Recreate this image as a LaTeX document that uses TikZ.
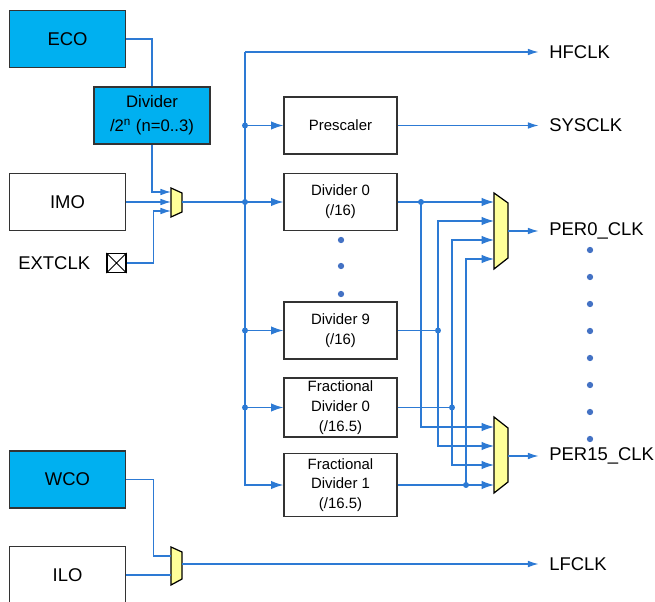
\documentclass[tikz,border=0pt]{standalone}
\usepackage{fontspec}
\setmainfont{Liberation Sans}
\usetikzlibrary{arrows.meta,positioning,calc}
\definecolor{wireblue}{RGB}{45,122,212}
\definecolor{dotblue}{RGB}{68,114,196}
\definecolor{srccyan}{RGB}{0,176,240}
\definecolor{muxyellow}{RGB}{255,255,153}

\tikzset{
  wire/.style={draw=wireblue, line width=0.65pt},
  arr/.style={wire, -{Latex[length=7pt,width=4.8pt]}},
  sarr/.style={wire, -{Latex[length=6pt,width=3.8pt]}},
  clkout/.style={sarr, shorten >=6pt},
  blk/.style={draw=black!80, line width=0.8pt, align=center, minimum width=2.26cm, minimum height=1.14cm, inner sep=0pt, font=\fontsize{8.5}{11.3}\selectfont},
  src/.style={blk, minimum width=2.32cm, fill=srccyan, font=\fontsize{10.5}{12}\selectfont},
  lbl/.style={anchor=west, inner sep=0pt, font=\fontsize{10.5}{12}\selectfont},
  mux/.style={draw=black, line width=0.7pt, fill=muxyellow},
  jdot/.style={circle, fill=wireblue, inner sep=0pt, minimum size=3.4pt},
}

\begin{document}
\begin{tikzpicture}[x=0.02cm, y=-0.02cm]
    \clip (0,0) rectangle (655,601);

    % clock sources
    \node [src](eco) at (67.5,39) {ECO};
    \node [src,font=\fontsize{9.5}{13.6}\selectfont](dvd) at (152,115.5) {Divider\\/2\textsuperscript{n} (n=0..3)};
    \node [src,fill=white](imo) at (67.5,202) {IMO};
    \node [lbl](xl) at (18,263) {EXTCLK};
    \node [draw,line width=0.6pt,minimum size=0.38cm,inner sep=0pt](xb) at (116.5,263) {};
    \draw [line width=0.5pt] (xb.north west) -- (xb.south east) (xb.north east) -- (xb.south west);
    \node [src](wco) at (67.5,479.5) {WCO};
    \node [src,fill=white](ilo) at (67.5,575) {ILO};

    % dividers
    \node [blk](presc) at (340.5,125.5) {Prescaler};
    \node [blk](d0) at (340.5,202) {Divider 0\\(/16)};
    \node [blk](d9) at (340.5,330.5) {Divider 9\\(/16)};
    \node [blk,minimum height=1.18cm](f0) at (340.5,407.5) {Fractional\\Divider 0\\(/16.5)};
    \node [blk,minimum height=1.26cm](f1) at (340.5,485) {Fractional\\Divider 1\\(/16.5)};

    % output labels
    \node [lbl](hfl) at (549,52) {HFCLK};
    \node [lbl](sysl) at (549,125.5) {SYSCLK};
    \node [lbl](p0l) at (549,231) {PER0\_CLK};
    \node [lbl](p1l) at (549,456) {PER15\_CLK};
    \node [lbl](lfl) at (549,564) {LFCLK};

    % muxes
    \draw [mux] (171,188) -- (182,193) -- (182,212) -- (171,217) -- cycle;
    \coordinate (m1a) at (171,192);
    \coordinate (m1b) at (171,202);
    \coordinate (m1c) at (171,211);
    \coordinate (m1o) at (182,202);
    \draw [mux] (494,193) -- (508,203) -- (508,258) -- (494,269) -- cycle;
    \coordinate (p0a) at (494,202);
    \coordinate (p0b) at (494,221);
    \coordinate (p0c) at (494,240);
    \coordinate (p0d) at (494,259);
    \coordinate (p0o) at (508,231);
    \draw [mux] (494,417) -- (508,428) -- (508,482) -- (494,493) -- cycle;
    \coordinate (p1a) at (494,427);
    \coordinate (p1b) at (494,446);
    \coordinate (p1c) at (494,465);
    \coordinate (p1d) at (494,485);
    \coordinate (p1o) at (508,456);
    \draw [mux] (171,547) -- (182,552) -- (182,579) -- (171,585) -- cycle;
    \coordinate (lfa) at (171,556);
    \coordinate (lfb) at (171,575);
    \coordinate (lfo) at (182,564);

    % source wiring
    \draw [wire] (eco.east) -| (dvd.north);
    \draw [sarr] (dvd.south) |- (m1a);
    \draw [sarr] (imo.east) -- (m1b);
    \draw [sarr] (xb.east) -- ++(27,0) |- (m1c);
    \draw [wire] (wco.east) -- ++(27,0) |- (lfa);
    \draw [wire] (ilo.east) -- (lfb);
    \draw [clkout] (lfo) -- (lfl.west);

    % high frequency bus
    \coordinate (bus) at (245,52);
    \draw [clkout] (bus) -- (hfl.west);
    \draw [arr] (bus) |- (f1.west);
    \draw [arr] (m1o) -- (d0.west);
    \draw [arr] (bus |- presc.west) -- (presc.west);
    \draw [arr] (bus |- d9.west) -- (d9.west);
    \draw [arr] (bus |- f0.west) -- (f0.west);
    \foreach \n in {presc,d0,d9,f0}
        \node [jdot] at (bus |- \n.west) {};
    \draw [clkout] (presc.east) -- (sysl.west);

    % peripheral clock muxes
    \coordinate (j0) at (421,202);
    \coordinate (j9) at (438,330.5);
    \coordinate (j10) at (452,407.5);
    \coordinate (j11) at (466,485);
    \draw [arr] (d0.east) -- (p0a);
    \draw [arr] (j0) |- (p1a);
    \draw [wire] (d9.east) -- (j9);
    \draw [arr] (j9) |- (p0b);
    \draw [arr] (j9) |- (p1b);
    \draw [wire] (f0.east) -- (j10);
    \draw [arr] (j10) |- (p0c);
    \draw [arr] (j10) |- (p1c);
    \draw [arr] (f1.east) -- (p1d);
    \draw [arr] (j11) |- (p0d);
    \foreach \j in {j0,j9,j10,j11}
        \node [jdot] at (\j) {};
    \draw [clkout] (p0o) -- (p0l.west);
    \draw [clkout] (p1o) -- (p1l.west);

    % elided dividers and outputs
    \foreach \y in {240,266,294}
        \fill [dotblue] (341,\y) circle (1.8pt);
    \foreach \y in {250,277,...,439}
        \fill [dotblue] (590,\y) circle (1.8pt);
\end{tikzpicture}
\end{document}
